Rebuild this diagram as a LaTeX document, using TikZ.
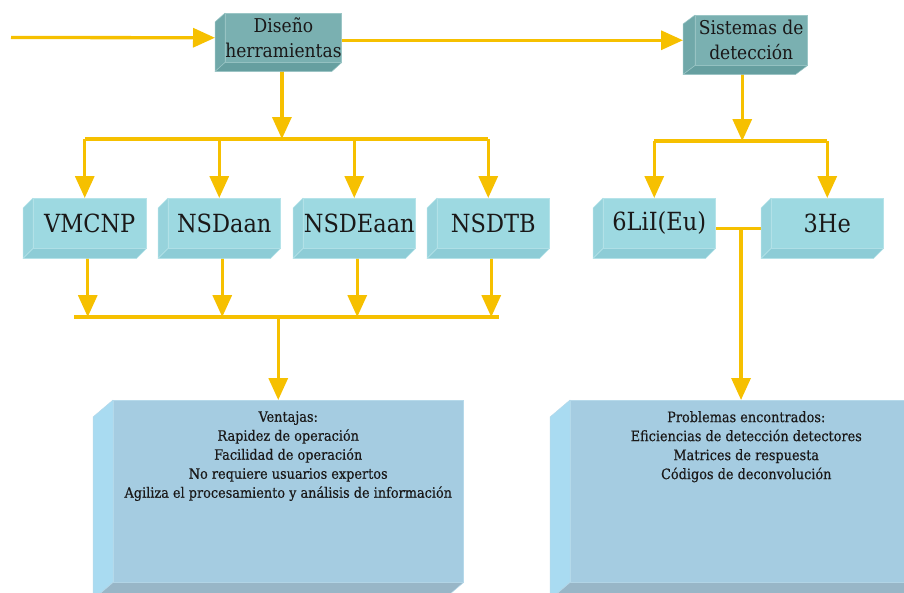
\documentclass[tikz,border=0pt]{standalone}
\usepackage{fontspec}
\setmainfont{DejaVu Serif Condensed}
\usetikzlibrary{calc,arrows.meta,backgrounds}

\definecolor{gold}{HTML}{F6C000}
\definecolor{ink}{HTML}{1A1818}
\definecolor{tealfront}{HTML}{7AB0B1}
\definecolor{tealside}{HTML}{70A8A9}
\definecolor{tealbase}{HTML}{669FA0}
\definecolor{tealedge}{HTML}{9BC6C6}
\definecolor{cyanfront}{HTML}{9DD9E1}
\definecolor{cyanside}{HTML}{97D3DC}
\definecolor{cyanbase}{HTML}{8DCCD6}
\definecolor{cyanedge}{HTML}{B5E3E9}
\definecolor{panelfront}{HTML}{A5CCE1}
\definecolor{panelside}{HTML}{A9DBF1}
\definecolor{panelbase}{HTML}{98B6C7}
\definecolor{paneledge}{HTML}{B6D9EA}

% left and lower faces of a solid block whose front face is node #1
% #2,#3: depth offset; #4 side colour; #5 base colour; #6 edge colour
\newcommand\blockfaces[6]{%
  \filldraw[fill=#4,draw=#6,line width=0.5pt,line join=round]
    (#1.north west) -- ($(#1.north west)+(#2,#3)$) -- ($(#1.south west)+(#2,#3)$) -- (#1.south west) -- cycle;
  \filldraw[fill=#5,draw=#6,line width=0.5pt,line join=round]
    (#1.south west) -- ($(#1.south west)+(#2,#3)$) -- ($(#1.south east)+(#2,#3)$) -- (#1.south east) -- cycle;
}

\tikzset{
  block/.style={anchor=north west, inner sep=0pt, align=center, text=ink, line width=0.5pt},
  tealblock/.style={block, fill=tealfront, draw=tealedge, font=\fontsize{19}{25}\selectfont},
  cyanblock/.style={block, fill=cyanfront, draw=cyanedge, minimum width=112pt, minimum height=50pt,
                    font=\fontsize{25}{30}\selectfont},
  panel/.style={block, fill=panelfront, draw=paneledge, minimum height=182pt},
  listtext/.style={anchor=north, align=center, text=ink, inner sep=0pt,
                   font=\fontsize{14.3}{19}\selectfont\addfontfeatures{FakeBold=0.4}},
  flowline/.style={draw=gold, line width=3.3pt},
  flow/.style={flowline, -{Triangle[length=22pt,width=19pt]}},
}

\begin{document}
\begin{tikzpicture}[x=1pt,y=-1pt]
\useasboundingbox (0,0) rectangle (904,592);

% top level blocks
\node[tealblock, minimum width=113pt, minimum height=49pt] (dis) at (225,13) {Diseño\\herramientas};
\blockfaces{dis}{-10}{9}{tealside}{tealbase}{tealedge}
\node[tealblock, minimum width=112pt, minimum height=50pt] (sis) at (695,15) {Sistemas de\\detección};
\blockfaces{sis}{-12}{9}{tealside}{tealbase}{tealedge}

% tools and detectors
\node[cyanblock, minimum width=113pt] (vm) at (33,198) {VMCNP};
\node[cyanblock] (nda) at (168,198) {NSDaan};
\node[cyanblock] (nde) at (303,198) {NSDEaan};
\node[cyanblock] (ntb) at (437,198) {NSDTB};
\node[cyanblock] (li) at (603,198) {6LiI(Eu)};
\node[cyanblock] (he) at (771,198) {3He};
\foreach \n in {vm,nda,nde,ntb,li,he}
  {\blockfaces{\n}{-10}{10}{cyanside}{cyanbase}{cyanedge}}

% result panels
\node[panel, minimum width=350pt] (ven) at (113,400) {};
\blockfaces{ven}{-20}{17}{panelside}{panelbase}{paneledge}
\node[panel, minimum width=352pt] (pro) at (570,400) {};
\blockfaces{pro}{-20}{17}{panelside}{panelbase}{paneledge}

\node[listtext] (ventxt) at ($(ven.north)+(0,11)$)
  {Ventajas:\\Rapidez de operación\\Facilidad de operación\\No requiere usuarios expertos\\Agiliza el procesamiento y análisis de información};
\node[listtext] (protxt) at ($(pro.north)+(0,11)$)
  {Problemas encontrados:\\Eficiencias de detección detectores\\Matrices de respuesta\\Códigos de deconvolución};

% connectors
\begin{pgfonlayer}{background}
  \coordinate (dis-in) at ([xshift=-10pt]dis.west);
  \coordinate (sis-in) at ([xshift=-12pt]sis.west);
  \coordinate (feed) at (11,37.5);
  \draw[flow] (feed) -- (dis-in);
  \draw[flow] (dis.east |- sis-in) -- (sis-in);

  % fan-out to the tools
  \coordinate (dis-out) at ([xshift=-1.5pt]dis.south);
  \coordinate (bar1) at (0,139);
  \draw[flow] (dis-out) -- (dis-out |- bar1);
  \foreach \n in {vm,nda,nde,ntb}
    {\coordinate (\n-in) at ([xshift=-5pt]\n.north);}
  \draw[flowline] (vm-in |- bar1) -- (ntb-in |- bar1);
  \foreach \n in {vm,nda,nde,ntb}
    {\draw[flow] (\n-in |- bar1) -- (\n-in);}

  % fan-in to the advantages panel
  \coordinate (bar2L) at (74,317);
  \coordinate (bar2R) at (499,317);
  \draw[flowline] (bar2L) -- (bar2R);
  \foreach \n in {vm,nda,nde,ntb}
    {\coordinate (\n-out) at ([xshift=-2pt]\n.south);
     \draw[flow] (\n-out) -- (\n-out |- bar2L);}
  \coordinate (ven-in) at ([xshift=-10pt]ven.north);
  \draw[flow] (ven-in |- bar2L) -- (ven-in);

  % detection systems branch
  \coordinate (sis-out) at ([xshift=-9pt]sis.south);
  \coordinate (bar3) at (0,141);
  \draw[flow] (sis-out) -- (sis-out |- bar3);
  \coordinate (li-in) at ([xshift=-5pt]li.north);
  \draw[flowline] (li-in |- bar3) -- (he.north |- bar3);
  \draw[flow] (li-in |- bar3) -- (li-in);
  \draw[flow] (he.north |- bar3) -- (he.north);

  \coordinate (join) at ($(li.east)!0.46!(he.west)+(0,5)$);
  \draw[flowline] ($(li.east)+(0,5)$) -- ($(he.west)+(0,5)$);
  \draw[flow] (join) -- (join |- pro.north);
\end{pgfonlayer}
\end{tikzpicture}
\end{document}
